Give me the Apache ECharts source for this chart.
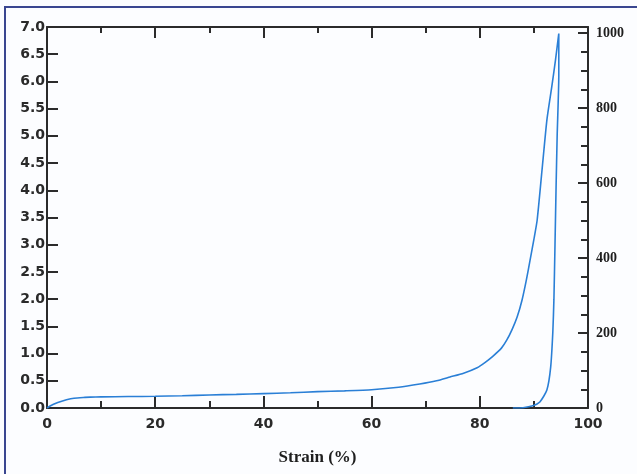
<!DOCTYPE html>
<html>
<head>
<meta charset="utf-8">
<script src="https://cdn.jsdelivr.net/npm/echarts@6/dist/echarts.min.js"></script>
<style>
html,body{margin:0;padding:0;background:#fcfdff;}
#frame{position:absolute;left:4px;top:6px;width:640px;height:480px;border-left:2px solid #3a4690;border-top:2px solid #3a4690;}
#chart{position:absolute;left:0;top:0;width:637px;height:474px;}
</style>
</head>
<body>
<div id="frame"></div>
<div id="chart"></div>
<script>
// Loading branch (strain %, stress left-axis units)
const loadStrain = [0,1,2,3.6,5,7,8,10,15,20,25,30,35,40,45,50,55,60,65,68.9,72,74.5,77,79.5,81,82.4,84,85,86,86.9,87.8,88.6,89.3,90,90.6,91.5,92.4,93.3,94,94.6];
const loadStress = [0,0.06,0.10,0.15,0.18,0.195,0.20,0.205,0.21,0.215,0.225,0.24,0.25,0.265,0.28,0.30,0.315,0.335,0.38,0.44,0.50,0.57,0.64,0.74,0.84,0.95,1.10,1.25,1.45,1.67,1.98,2.35,2.72,3.10,3.45,4.37,5.29,5.90,6.40,6.88];
// Unloading branch
const unloadStrain = [94.6,94.6,94.3,94.1,93.9,93.7,93.5,93.1,92.4,91.1,89.8,88,86.1];
const unloadStress = [6.88,6.10,5.00,4.06,3.00,2.00,1.40,0.75,0.33,0.11,0.04,0.005,0];
// Axis ticks
const xTicks = [0,20,40,60,80,100];
const leftTicks = [0,0.5,1,1.5,2,2.5,3,3.5,4,4.5,5,5.5,6,6.5,7];
const rightTicks = [0,200,400,600,800,1000];

const curve = [];
loadStrain.forEach((s,i)=>curve.push([s,loadStress[i]]));
unloadStrain.forEach((s,i)=>curve.push([s,unloadStress[i]]));

const axisCol = '#2b2b2b';
const lw = 2;
const chart = echarts.init(document.getElementById('chart'));
chart.setOption({
  backgroundColor: 'transparent',
  animation: false,
  grid: {left: 47, top: 27, right: 49, bottom: 66},
  xAxis: [{
    type: 'value', min: xTicks[0], max: xTicks[xTicks.length-1], interval: 20, position: 'bottom',
    axisLine: {onZero: false, lineStyle: {color: axisCol, width: lw}},
    axisTick: {inside: true, length: 12, lineStyle: {color: axisCol, width: lw}},
    minorTick: {show: true, splitNumber: 2, length: 7, lineStyle: {color: axisCol, width: lw}},
    splitLine: {show: false},
    axisLabel: {margin: 9, color: '#2a2a2a', fontFamily: 'DejaVu Sans', fontWeight: 'bold', fontSize: 14},
    name: 'Strain (%)', nameLocation: 'middle', nameGap: 41,
    nameTextStyle: {fontFamily: 'Liberation Serif', fontWeight: 'bold', fontSize: 17, color: '#1e1e1e'}
  },{
    type: 'value', min: xTicks[0], max: xTicks[xTicks.length-1], interval: 20, position: 'top',
    axisLine: {onZero: false, lineStyle: {color: axisCol, width: lw}},
    axisTick: {inside: true, length: 11, lineStyle: {color: axisCol, width: lw}},
    minorTick: {show: true, splitNumber: 2, length: 6, lineStyle: {color: axisCol, width: lw}},
    splitLine: {show: false},
    axisLabel: {show: false}
  }],
  yAxis: [{
    type: 'value', min: leftTicks[0], max: leftTicks[leftTicks.length-1], interval: 0.5, position: 'left',
    axisLine: {show: true, onZero: false, lineStyle: {color: axisCol, width: lw}},
    axisTick: {show: true, inside: true, length: 11, lineStyle: {color: axisCol, width: lw}},
    splitLine: {show: false},
    axisLabel: {margin: 2, color: '#2a2a2a', fontFamily: 'DejaVu Sans', fontWeight: 'bold', fontSize: 14,
      formatter: v => v.toFixed(1)}
  },{
    type: 'value', min: 0, max: 1016, interval: 200, position: 'right',
    axisLine: {show: true, onZero: false, lineStyle: {color: axisCol, width: lw}},
    axisTick: {show: true, inside: true, length: 10, lineStyle: {color: axisCol, width: lw}},
    minorTick: {show: true, splitNumber: 4, length: 7, lineStyle: {color: axisCol, width: lw}},
    splitLine: {show: false},
    axisLabel: {margin: 8, color: '#1e1e1e', fontFamily: 'Liberation Serif', fontWeight: 'bold', fontSize: 14,
      showMaxLabel: false,
      formatter: v => rightTicks.indexOf(v) >= 0 ? String(v) : ''}
  }],
  series: [{
    type: 'line', xAxisIndex: 0, yAxisIndex: 0, data: curve,
    showSymbol: false, smooth: 0.2,
    lineStyle: {color: '#2a7fd6', width: 1.6}
  }]
});
</script>
</body>
</html>
